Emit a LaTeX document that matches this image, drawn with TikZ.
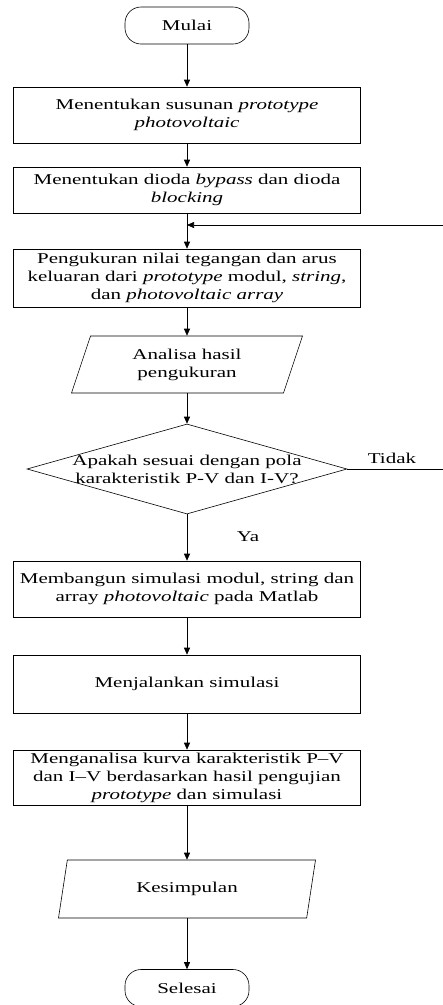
\documentclass[tikz,border=0pt]{standalone}
\usepackage{fontspec}
\setmainfont{Liberation Serif}[FakeStretch=1.4]
\usetikzlibrary{shapes.geometric,arrows.meta}

\begin{document}
\begin{tikzpicture}[x=1pt, y=-1pt, line width=0.6pt,
    every node/.style={font=\fontsize{15}{18}\selectfont},
    terminal/.style={draw, rounded corners=16pt, minimum width=124pt, minimum height=37pt, inner sep=0pt},
    proses/.style={draw, minimum width=347pt, inner sep=0pt, align=center},
    masukan/.style={draw, trapezium, trapezium stretches body, inner sep=0pt, align=center},
    keputusan/.style={draw, diamond, minimum width=320pt, minimum height=90pt, inner sep=0pt},
    panah/.style={-{Triangle[length=7pt,width=6pt]}}]

\useasboundingbox (0,0) rectangle (443,1005);

% start
\node[terminal] (mulai) at (187,25.5) {Mulai};

% process boxes
\node[proses, minimum height=56pt] (susunan) at (187,115) {Menentukan susunan \textit{prototype}\\\textit{photovoltaic}};
\node[proses, minimum height=46pt] (dioda) at (187,190) {Menentukan dioda \textit{bypass} dan dioda\\\textit{blocking}};
\node[proses, minimum height=58pt] (ukur) at (187,278) {Pengukuran nilai tegangan dan arus\\keluaran dari \textit{prototype} modul, \textit{string},\\dan \textit{photovoltaic array}};
\node[masukan, trapezium left angle=59, trapezium right angle=121, minimum width=231pt, minimum height=57pt] (analisa) at (187,364.5) {Analisa hasil\\pengukuran};

% decision
\node[keputusan] (sesuai) at (187,469) {};
\node[align=center] (tanya) at (sesuai.center) {Apakah sesuai dengan pola\\karakteristik P-V dan I-V?};
\node (ya) at (248,537) {Ya};
\node (tidak) at (392,458) {Tidak};

\node[proses, minimum height=56pt] (bangun) at (187,589) {Membangun simulasi modul, string dan\\array \textit{photovoltaic} pada Matlab};
\node[proses, minimum height=58pt] (jalan) at (187,684) {Menjalankan simulasi};
\node[proses, minimum height=55pt] (kurva) at (187,777.5) {Menganalisa kurva karakteristik P--V\\dan I--V berdasarkan hasil pengujian\\\textit{prototype} dan simulasi};
\node[masukan, trapezium left angle=57, trapezium right angle=123, minimum width=257pt, minimum height=58pt] (simpul) at (187,889) {Kesimpulan};

% end
\node[terminal] (selesai) at (187,988) {Selesai};

% arrows
\draw[panah] (mulai) -- (susunan);
\draw[panah] (susunan) -- (dioda);
\draw[panah] (dioda) -- (ukur);
\draw[panah] (ukur.south) -- (ukur.south |- analisa.north);
\draw[panah] (ukur.south |- analisa.south) -- (sesuai.north);
\draw[panah] (sesuai) -- (bangun);
\draw[panah] (bangun) -- (jalan);
\draw[panah] (jalan) -- (kurva);
\draw[panah] (kurva.south) -- (kurva.south |- simpul.north);
\draw[panah] (kurva.south |- simpul.south) -- (selesai);

% loop back
\coordinate (tidakR) at (452,469);
\coordinate (balikR) at (452,225);
\coordinate (balik) at (187,225);
\draw[panah] (sesuai.east) -- (tidakR) -- (balikR) -- (balik);

\end{tikzpicture}
\end{document}
